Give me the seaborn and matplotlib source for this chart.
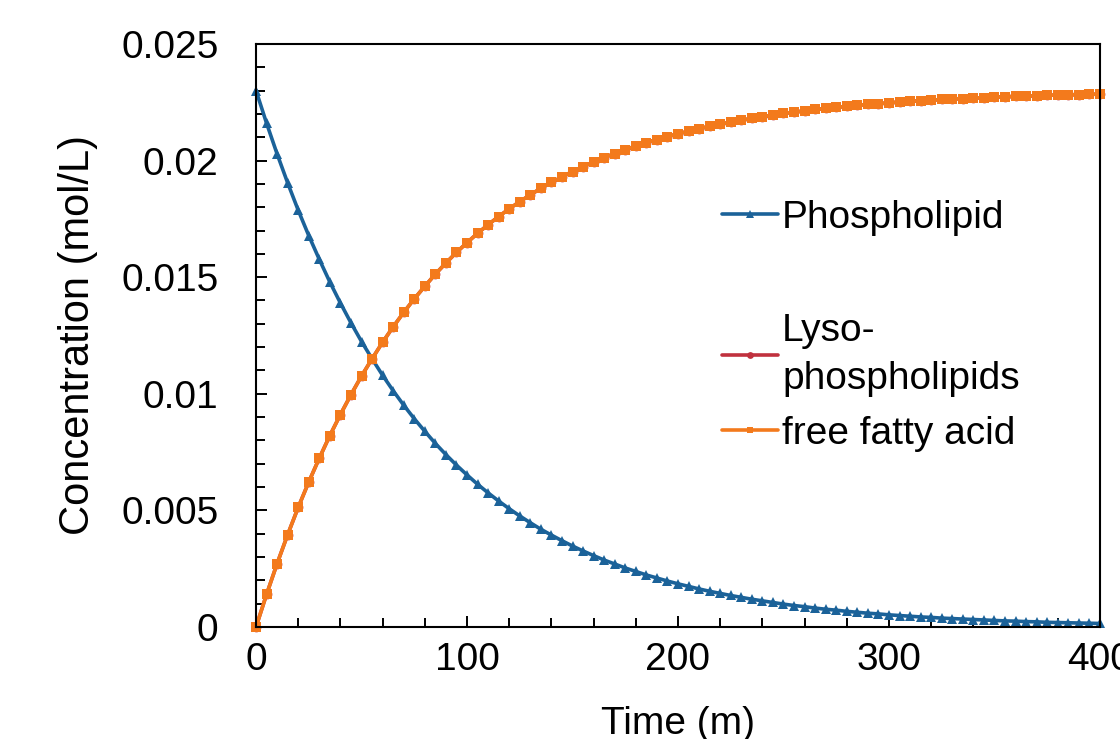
import numpy as np
import pandas as pd
import seaborn as sns
import matplotlib
matplotlib.use('Agg')
import matplotlib.pyplot as plt
from matplotlib.ticker import MultipleLocator, FuncFormatter

# sampling grid, every 5 min
time_min = list(range(0, 405, 5))

phospholipid = [
    0.02300, 0.02160, 0.02028, 0.01904, 0.01787, 0.01678, 0.01576, 0.01479, 0.01389, 0.01304,
    0.01224, 0.01150, 0.01079, 0.01013, 0.00951, 0.00893, 0.00839, 0.00787, 0.00739, 0.00694,
    0.00652, 0.00612, 0.00575, 0.00540, 0.00507, 0.00476, 0.00447, 0.00419, 0.00394, 0.00370,
    0.00347, 0.00326, 0.00306, 0.00287, 0.00270, 0.00253, 0.00238, 0.00223, 0.00210, 0.00197,
    0.00185, 0.00174, 0.00163, 0.00153, 0.00144, 0.00135, 0.00127, 0.00119, 0.00112, 0.00105,
    0.00098, 0.00092, 0.00087, 0.00081, 0.00076, 0.00072, 0.00067, 0.00063, 0.00059, 0.00056,
    0.00052, 0.00049, 0.00046, 0.00043, 0.00041, 0.00038, 0.00036, 0.00034, 0.00032, 0.00030,
    0.00028, 0.00026, 0.00025, 0.00023, 0.00022, 0.00020, 0.00019, 0.00018, 0.00017, 0.00016,
    0.00015,
]

free_fatty_acid = [
    0.00000, 0.00140, 0.00272, 0.00396, 0.00513, 0.00622, 0.00724, 0.00821, 0.00911, 0.00996,
    0.01076, 0.01150, 0.01221, 0.01287, 0.01349, 0.01407, 0.01461, 0.01513, 0.01561, 0.01606,
    0.01648, 0.01688, 0.01725, 0.01760, 0.01793, 0.01824, 0.01853, 0.01881, 0.01906, 0.01930,
    0.01953, 0.01974, 0.01994, 0.02013, 0.02030, 0.02047, 0.02062, 0.02077, 0.02090, 0.02103,
    0.02115, 0.02126, 0.02137, 0.02147, 0.02156, 0.02165, 0.02173, 0.02181, 0.02188, 0.02195,
    0.02202, 0.02208, 0.02213, 0.02219, 0.02224, 0.02228, 0.02233, 0.02237, 0.02241, 0.02244,
    0.02248, 0.02251, 0.02254, 0.02257, 0.02259, 0.02262, 0.02264, 0.02266, 0.02268, 0.02270,
    0.02272, 0.02274, 0.02275, 0.02277, 0.02278, 0.02280, 0.02281, 0.02282, 0.02283, 0.02284,
    0.02285,
]

# the red curve is hidden right under the orange one
lysophospholipids = list(free_fatty_acid)

blue = '#1B6299'
red = '#C0313E'
orange = '#F37A1C'

sns.set_style('ticks')
plt.rcParams['font.family'] = ['Liberation Sans', 'DejaVu Sans']
plt.rcParams['text.color'] = 'black'
plt.rcParams['axes.labelcolor'] = 'black'
plt.rcParams['xtick.color'] = 'black'
plt.rcParams['ytick.color'] = 'black'

fig = plt.figure(figsize=(11.2, 7.39), dpi=100)
ax = fig.add_axes([0.2286, 0.1516, 0.7535, 0.7889])

sns.lineplot(x=time_min, y=phospholipid, ax=ax, color=blue, marker='^', markersize=7.5,
             markeredgewidth=0, linewidth=2.6, clip_on=False, label='Phospholipid')
sns.lineplot(x=time_min, y=lysophospholipids, ax=ax, color=red, marker='o', markersize=7,
             markeredgewidth=0, linewidth=2.6, clip_on=False, label='Lyso-\nphospholipids')
sns.lineplot(x=time_min, y=free_fatty_acid, ax=ax, color=orange, marker='s', markersize=7,
             markeredgewidth=0, linewidth=2.6, clip_on=False, label='free fatty acid')

ax.set_xlim(0, 400)
ax.set_ylim(0, 0.025)
ax.xaxis.set_major_locator(MultipleLocator(100))
ax.xaxis.set_minor_locator(MultipleLocator(20))
ax.yaxis.set_major_locator(MultipleLocator(0.005))
ax.yaxis.set_minor_locator(MultipleLocator(0.001))
ax.yaxis.set_major_formatter(FuncFormatter(lambda v, p: '{:g}'.format(round(v, 4))))

for s in ax.spines.values():
    s.set_visible(True)
    s.set_linewidth(1.5)
    s.set_color('black')

ax.tick_params(axis='both', which='major', direction='in', length=8, width=1.4,
               labelsize=28)
ax.tick_params(axis='both', which='minor', direction='in', length=6.5, width=1.4)
ax.tick_params(axis='x', which='major', pad=11)
ax.tick_params(axis='y', which='major', pad=27)

ax.set_xlabel('Time (m)', fontsize=28, labelpad=20)
ax.set_ylabel('Concentration (mol/L)', fontsize=30, labelpad=17)

# two legends so the gap above "Lyso-" matches the original
handles, labels = ax.get_legend_handles_labels()
ax.get_legend().remove()
leg1 = ax.legend(handles[:1], labels[:1], loc='center left', bbox_to_anchor=(0.6446, 0.705),
                 bbox_transform=fig.transFigure, frameon=False, fontsize=28, borderpad=0,
                 borderaxespad=0, handlelength=1.45, handletextpad=0.1, markerscale=0.7)
ax.add_artist(leg1)
leg2 = ax.legend(handles[1:], labels[1:], loc='center left', bbox_to_anchor=(0.6446, 0.4825),
                 bbox_transform=fig.transFigure, frameon=False, fontsize=28, borderpad=0,
                 borderaxespad=0, handlelength=1.45, handletextpad=0.1, markerscale=0.7,
                 labelspacing=0.5)
for t in leg2.get_texts():
    t.set_linespacing(1.42)

fig.savefig('out.png', dpi=100)
